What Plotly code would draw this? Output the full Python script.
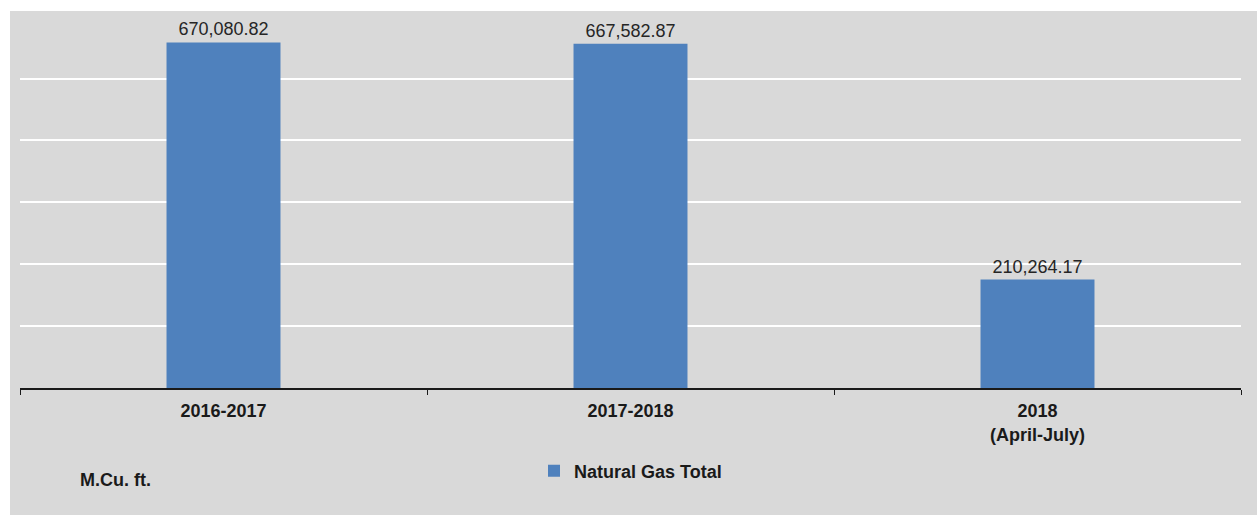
import plotly.graph_objects as go

categories = ["2016-2017", "2017-2018", "2018<br>(April-July)"]
values = [670080.82, 667582.87, 210264.17]
series_name = "Natural Gas Total"
unit_label = "M.Cu. ft."

W, H = 1257, 515
ML, MR, MT, MB = 20, 16, 27, 127
plot_w = W - ML - MR
plot_h = H - MT - MB


def px_x(p):
    return (p - ML) / plot_w


def px_y(p):
    return (H - MB - p) / plot_h


fig = go.Figure()
fig.add_trace(go.Bar(
    x=categories, y=values, name=series_name,
    marker=dict(color="#4f81bd", line=dict(width=0)),
    texttemplate="%{y:,.2f}", textposition="outside",
    textfont=dict(size=18, color="#262626"),
    cliponaxis=False,
))

fig.add_shape(
    type="rect", xref="paper", yref="paper",
    x0=px_x(10), x1=px_x(W + 30), y0=px_y(H + 2), y1=px_y(11),
    fillcolor="#d9d9d9", line=dict(width=0), layer="below",
)

fig.add_annotation(
    text=f"<b>{unit_label}</b>", xref="paper", yref="paper",
    x=px_x(78), y=px_y(480), xanchor="left", yanchor="middle",
    showarrow=False, font=dict(size=18, color="#1a1a1a"),
)

fig.update_layout(
    width=W, height=H,
    margin=dict(l=ML, r=MR, t=MT, b=MB),
    paper_bgcolor="white", plot_bgcolor="#d9d9d9",
    font=dict(family="Arial, Liberation Sans, sans-serif", color="#1a1a1a"),
    bargap=0.72,
    showlegend=True,
    legend=dict(
        orientation="h", x=px_x(534), y=px_y(471),
        xanchor="left", yanchor="middle",
        bgcolor="rgba(0,0,0,0)",
        font=dict(size=18, color="#1a1a1a", weight="bold"),
    ),
)
fig.update_xaxes(
    showline=True, linecolor="#1a1a1a", linewidth=1.5,
    ticks="outside", tickson="boundaries", ticklen=5, tickcolor="#1a1a1a",
    tickfont=dict(size=18, color="#1a1a1a", weight="bold"),
    ticklabelstandoff=6,
    showgrid=False,
)
fig.update_yaxes(
    range=[0, 700000], dtick=120000, showticklabels=False,
    showgrid=True, gridcolor="white", gridwidth=2, zeroline=False,
)

fig.write_html(
    "out.html",
    config={"displayModeBar": False},
    post_script="document.body.style.margin='0';",
)
